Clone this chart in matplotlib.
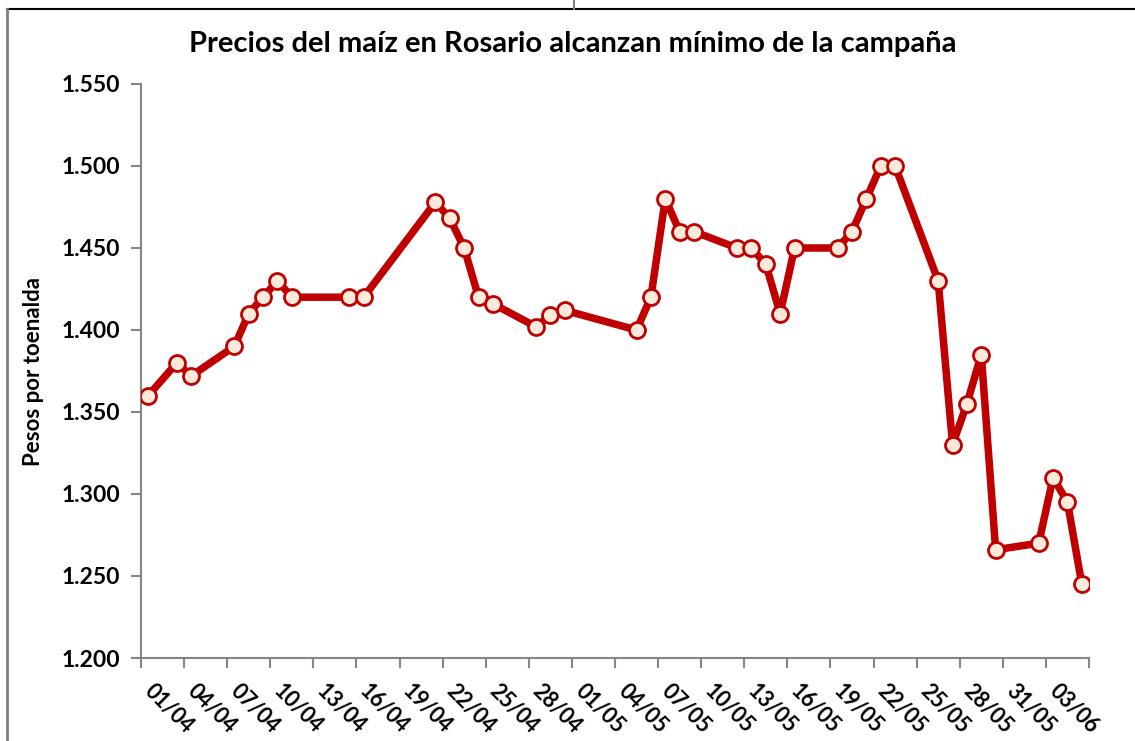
import datetime
import matplotlib
matplotlib.use('Agg')
import matplotlib.pyplot as plt
import matplotlib.transforms as mtransforms
from matplotlib.lines import Line2D
from matplotlib.ticker import FuncFormatter

plt.rcParams['font.family'] = ['Lato', 'DejaVu Sans']

# datos: fecha (dd/mm) y precio en pesos por tonelada
fechas = ["01/04", "03/04", "04/04", "07/04", "08/04", "09/04", "10/04", "11/04",
          "15/04", "16/04", "21/04", "22/04", "23/04", "24/04", "25/04", "28/04",
          "29/04", "30/04", "05/05", "06/05", "07/05", "08/05", "09/05", "12/05",
          "13/05", "14/05", "15/05", "16/05", "19/05", "20/05", "21/05", "22/05",
          "23/05", "26/05", "27/05", "28/05", "29/05", "30/05", "02/06", "03/06",
          "04/06", "05/06"]
precios = [1360, 1380, 1372, 1390, 1410, 1420, 1430, 1420,
           1420, 1420, 1478, 1468, 1450, 1420, 1416, 1402,
           1409, 1412, 1400, 1420, 1480, 1460, 1460, 1450,
           1450, 1440, 1410, 1450, 1450, 1460, 1480, 1500,
           1500, 1430, 1330, 1355, 1385, 1266, 1270, 1310,
           1295, 1245]

tick_labels = ["01/04", "04/04", "07/04", "10/04", "13/04", "16/04", "19/04",
               "22/04", "25/04", "28/04", "01/05", "04/05", "07/05", "10/05",
               "13/05", "16/05", "19/05", "22/05", "25/05", "28/05", "31/05",
               "03/06", ""]
y_ticks = [1200, 1250, 1300, 1350, 1400, 1450, 1500, 1550]

titulo = "Precios del maíz en Rosario alcanzan mínimo de la campaña"
ylab = "Pesos por toenalda"

inicio = datetime.date(2012, 4, 1)


def dia(s):
    d, m = s.split('/')
    return (datetime.date(2012, int(m), int(d)) - inicio).days


x = [dia(f) + 0.5 for f in fechas]
ticks = [3 * i for i in range(len(tick_labels))]

W, H = 1135, 741
fig = plt.figure(figsize=(W / 100, H / 100), dpi=100)
ax = fig.add_axes([141 / W, 1 - 658 / H, (1089 - 141) / W, (658 - 84) / H])

ax.plot(x, precios, color='#C00000', lw=5.4, marker='o', ms=11.5,
        mfc='#FDEADA', mec='#C00000', mew=2.0, zorder=3)

for s in ['top', 'right']:
    ax.spines[s].set_visible(False)
for s in ['left', 'bottom']:
    ax.spines[s].set_color('#868686')
    ax.spines[s].set_linewidth(1.5)
ax.tick_params(axis='both', direction='out', length=7, width=1.5, color='#868686')
ax.tick_params(axis='y', labelsize=16.5, pad=8)
ax.tick_params(axis='x', labelsize=15.5, pad=9)

ax.set_xlim(0, ticks[-1])
ax.set_ylim(1200, 1550)
ax.set_yticks(y_ticks)
ax.yaxis.set_major_formatter(FuncFormatter(lambda v, p: '%.3f' % (v / 1000)))
ax.set_xticks(ticks)
ax.set_xticklabels(tick_labels, rotation=-45, ha='left', va='top',
                   rotation_mode='anchor', fontweight='bold', fontsize=15.5)
for lab in ax.get_yticklabels():
    lab.set_fontweight('bold')

ax.set_ylabel(ylab, fontsize=16, fontweight='bold')
ax.yaxis.set_label_coords((44 - 141) / 948, 0.5)

fig.text(573 / W, 1 - 44 / H, titulo, ha='center', va='center',
         fontsize=21, fontweight='bold')

# marco de la hoja
fig.add_artist(Line2D([7 / W, 1], [1 - 9 / H, 1 - 9 / H], color='black', lw=1.5))
fig.add_artist(Line2D([7 / W, 7 / W], [0, 1 - 9 / H], color='#7f7f7f', lw=2))
fig.add_artist(Line2D([574 / W, 574 / W], [1 - 9 / H, 1], color='#7f7f7f', lw=1.5))

# desplazar las etiquetas del eje x a la derecha del tick
fig.canvas.draw()
off = mtransforms.ScaledTranslation(14 / 100, 0, fig.dpi_scale_trans)
for lab in ax.get_xticklabels():
    lab.set_transform(lab.get_transform() + off)

plt.savefig('out.png', dpi=100)
